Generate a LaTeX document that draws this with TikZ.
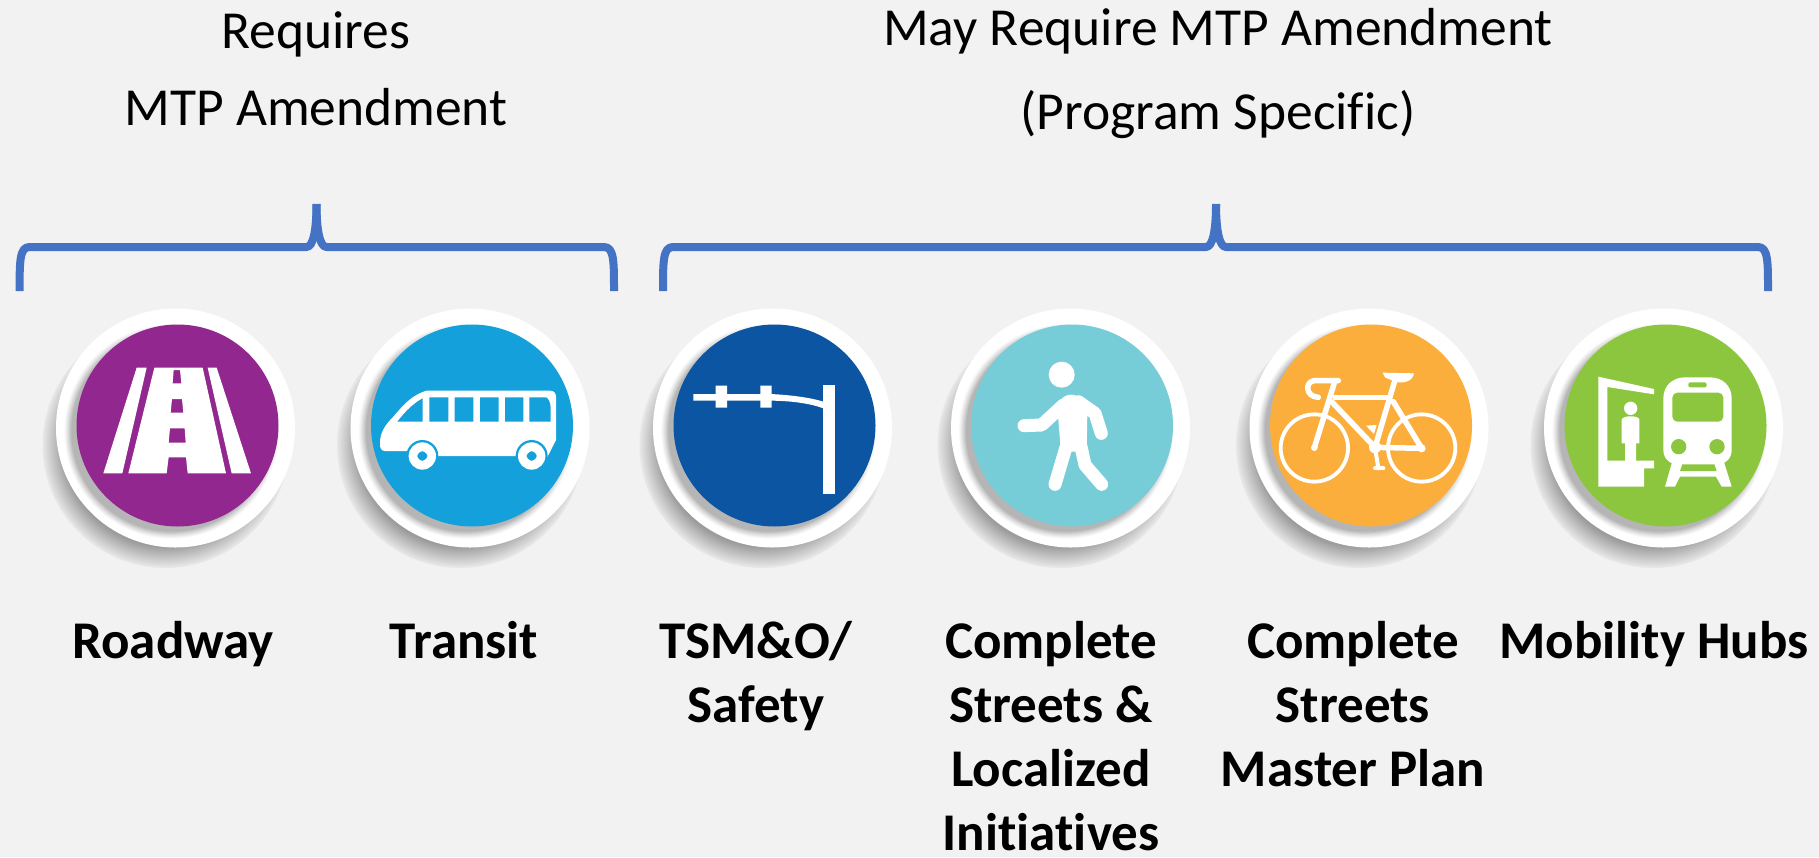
\documentclass[tikz,border=0pt]{standalone}
\usepackage{fontspec}
\setmainfont[Ligatures=NoCommon]{Carlito}
\definecolor{bgc}{HTML}{F2F2F2}
\definecolor{brk}{HTML}{4472C4}
\definecolor{cRoad}{HTML}{92278F}
\definecolor{cBus}{HTML}{14A1DB}
\definecolor{cTsm}{HTML}{0B55A3}
\definecolor{cPed}{HTML}{76CDD8}
\definecolor{cBike}{HTML}{FBAE3C}
\definecolor{cHub}{HTML}{8CC63E}
\definecolor{shd}{HTML}{9C9C9C}
\tikzset{
  disc/.style={circle,inner sep=0pt,minimum size=239pt,fill=white},
  face/.style={circle,inner sep=0pt,minimum size=202pt},
  head/.style={font=\fontsize{53.5}{64}\selectfont,align=center,inner sep=0pt,anchor=base},
  lab/.style={font=\fontsize{53}{64}\selectfont\bfseries,align=center,inner sep=0pt,anchor=north},
  brace/.style={draw=brk,line width=8pt,line cap=butt,line join=round},
  icon/.style={fill=white,draw=none},
  wl/.style={draw=white,line cap=round,line join=round}
}
\newcommand{\badge}[4]{%
  % soft outer shadow
  \foreach \i in {0,...,20}{
    \pgfmathsetmacro{\p}{12+88*(\i/20)}
    \pgfmathsetmacro{\rr}{123-\i*1.05}
    \fill[shd!\p!bgc] (#2-10,445) circle[radius=\rr];
  }
  \node[disc] (#1) at (#2,428) {};
  \begin{scope}
    \clip (#2,428) circle[radius=119];
    \foreach \i in {0,...,10}{
      \pgfmathsetmacro{\p}{75*(\i/10)^1.2}
      \pgfmathsetmacro{\rr}{108-\i*0.8}
      \fill[shd!\p!white] (#3-6,431.5) circle[radius=\rr];
    }
  \end{scope}
  \node[face,fill=#4] (#1-face) at (#3,425.5) {};
}
\begin{document}
\begin{tikzpicture}[x=1pt,y=-1pt]
\useasboundingbox (0,0) rectangle (1819,857);
\fill[bgc] (0,0) rectangle (1819,857);

% headings
\node[head] (h1a) at (316,48) {Requires};
\node[head] (h1b) at (316,125) {MTP Amendment};
\node[head] (h2a) at (1218,45) {May Require MTP Amendment};
\node[head] (h2b) at (1218,129) {(Program Specific)};

% braces
\coordinate (b1l) at (19.6,291); \coordinate (b1m) at (316.5,204); \coordinate (b1r) at (614,291);
\coordinate (b2l) at (663,291); \coordinate (b2m) at (1216,204); \coordinate (b2r) at (1768,291);
\draw[brace] (b1l) .. controls ++(0,-30) and ++(-10,0) .. ([shift={(10,-44)}]b1l) -- ([shift={(-10,43)}]b1m) .. controls ++(7,0) and ++(0,25) .. (b1m);
\draw[brace] (b1r) .. controls ++(0,-30) and ++(10,0) .. ([shift={(-10,-44)}]b1r) -- ([shift={(10,43)}]b1m) .. controls ++(-7,0) and ++(0,25) .. (b1m);
\draw[brace] (b2l) .. controls ++(0,-30) and ++(-10,0) .. ([shift={(10,-44)}]b2l) -- ([shift={(-10,43)}]b2m) .. controls ++(7,0) and ++(0,25) .. (b2m);
\draw[brace] (b2r) .. controls ++(0,-30) and ++(10,0) .. ([shift={(-10,-44)}]b2r) -- ([shift={(10,43)}]b2m) .. controls ++(-7,0) and ++(0,25) .. (b2m);

% badges
\badge{road}{175.5}{177.5}{cRoad}
\badge{bus}{470}{472}{cBus}
\badge{tsm}{772.5}{774.5}{cTsm}
\badge{ped}{1070.5}{1072}{cPed}
\badge{bike}{1369}{1371}{cBike}
\badge{hub}{1663.5}{1665.5}{cHub}

% road icon
\begin{scope}[shift={(90,340)},scale=1/3]
  \fill[icon] (40,400) -- (140,83) -- (170,83) -- (97,400) -- cycle;
  \fill[icon] (353,83) -- (380,83) -- (483,400) -- (425,400) -- cycle;
  \fill[icon,even odd rule] (115,400) -- (193,83) -- (338,83) -- (408,400) -- (293,400) -- (288,352) -- (236,352) -- (230,400) -- cycle
    (251,90) -- (270,90) -- (274,130) -- (248,130) -- cycle
    (246,177) -- (276,177) -- (280,218) -- (242,218) -- cycle
    (240,265) -- (284,265) -- (287,308) -- (236,308) -- cycle;
\end{scope}

% bus icon
\begin{scope}[shift={(370,370)},scale=1/3]
  \fill[icon] (30,225) .. controls (28,190) and (45,165) .. (70,140) .. controls (100,105) and (125,75) .. (170,62)
     -- (540,62) .. controls (552,62) and (558,70) .. (558,80) -- (558,210) -- (530,265) -- (445,258) -- (197,258) -- (115,243) -- (45,243) .. controls (35,243) and (30,235) .. (30,225) -- cycle;
  \fill[cBus] (157,258) circle[radius=48] (485,258) circle[radius=48];
  \fill[icon] (157,258) circle[radius=41] (485,258) circle[radius=41];
  \fill[cBus,rounded corners=3pt] (157,240) -- (176,258) -- (157,276) -- (138,258) -- cycle;
  \fill[cBus,rounded corners=3pt] (485,240) -- (504,258) -- (485,276) -- (466,258) -- cycle;
  \fill[cBus] (178,82) rectangle (235,155) (254,82) rectangle (310,155)
     (330,82) rectangle (386,155) (405,82) rectangle (460,155);
  \fill[cBus] (478,82) -- (528,82) .. controls (535,85) and (540,95) .. (542,110) -- (542,155) -- (478,155) -- cycle;
  \fill[cBus] (82,155) .. controls (105,125) and (130,100) .. (158,85) -- (158,155) -- cycle;
\end{scope}

% gantry icon
\begin{scope}[shift={(680,370)},scale=1/3]
  \fill[icon] (428,45) rectangle (465,373);
  \fill[icon] (40,72) -- (270,72) .. controls (340,75) and (400,85) .. (430,95) -- (430,115) .. controls (390,100) and (330,92) .. (270,92) -- (40,92) -- cycle;
  \fill[icon] (107,47) rectangle (141,113) (241,47) rectangle (275,113);
\end{scope}

% pedestrian icon
\begin{scope}[shift={(1000,350)},scale=1/3]
  \fill[icon] (185,74) circle[radius=39];
  \fill[icon] (172,175) .. controls (180,145) and (195,130) .. (225,135) -- (262,190) -- (260,305) -- (183,305) -- cycle;
  \draw[wl,line width=13pt] (72,227) -- (125,225) -- (190,165);
  \draw[wl,line width=13pt] (235,155) -- (285,190) -- (304,250);
  \draw[wl,line width=13pt] (200,285) -- (165,403);
  \draw[wl,line width=13pt] (243,290) -- (255,345) -- (305,403);
\end{scope}

% bicycle icon
\begin{scope}[shift={(1270,360)},scale=1/3]
  \draw[wl,line width=3.8pt] (133,264) circle[radius=101] (455,264) circle[radius=101];
  \draw[wl,line width=5.5pt,line cap=butt] (190,112) -- (365,112);
  \draw[wl,line width=5.5pt] (195,62) -- (133,263);
  \draw[wl,line width=5.5pt] (375,60) -- (315,262);
  \draw[wl,line width=5.5pt] (185,125) -- (315,262) -- (455,265) -- (370,125);
  \draw[wl,line width=5.5pt] (205,62) -- (132,62) .. controls (105,65) and (105,110) .. (145,112);
  \draw[wl,line width=4pt] (315,262) -- (325,325);
  \draw[wl,line width=4pt] (315,325) -- (340,325);
  \fill[icon] (315,262) circle[radius=18] (133,263) circle[radius=10] (455,265) circle[radius=12];
  \fill[icon] (338,38) -- (432,40) .. controls (428,62) and (405,72) .. (375,65) -- (345,52) -- cycle;
  \fill[icon] (288,197) -- (320,195) -- (312,222) -- cycle;
\end{scope}

% hub icon
\begin{scope}[shift={(1580,365)},scale=1/3]
  \fill[icon] (55,35) -- (222,72) -- (222,88) -- (82,66) -- (82,287) -- (222,287) -- (222,310) -- (192,310) -- (192,365) -- (55,365) -- cycle;
  \fill[icon] (152,130) circle[radius=20];
  \fill[icon] (125,165) .. controls (125,150) and (180,150) .. (178,165) -- (178,235) -- (168,235) -- (168,290) -- (135,290) -- (135,235) -- (125,235) -- cycle;
  \fill[icon] (250,100) .. controls (250,60) and (280,37) .. (315,37) -- (390,37) .. controls (425,37) and (455,60) .. (455,100) -- (455,255) .. controls (455,285) and (430,300) .. (405,300) -- (300,300) .. controls (275,300) and (250,285) .. (250,255) -- cycle;
  \fill[icon] (278,285) -- (255,365) -- (285,365) -- (300,335) -- (408,335) -- (425,365) -- (455,365) -- (430,285) -- cycle;
  \fill[cHub,rounded corners=5pt] (277,83) rectangle (430,170);
  \fill[cHub,rounded corners=2pt] (325,52) rectangle (380,67);
  \fill[cHub] (296,245) circle[radius=23] (411,245) circle[radius=23];
  \fill[cHub] (300,318) -- (410,318) -- (403,298) -- (307,298) -- cycle;
\end{scope}

% labels
\node[lab] (l1) at (173,621) {Roadway};
\node[lab] (l2) at (464,621) {Transit};
\node[lab] (l3) at (756,621) {TSM\&O/\\Safety};
\node[lab] (l4) at (1051,621) {Complete\\Streets \&\\Localized\\Initiatives};
\node[lab] (l5) at (1353,621) {Complete\\Streets\\Master Plan};
\node[lab] (l6) at (1654,621) {Mobility Hubs};
\end{tikzpicture}
\end{document}
